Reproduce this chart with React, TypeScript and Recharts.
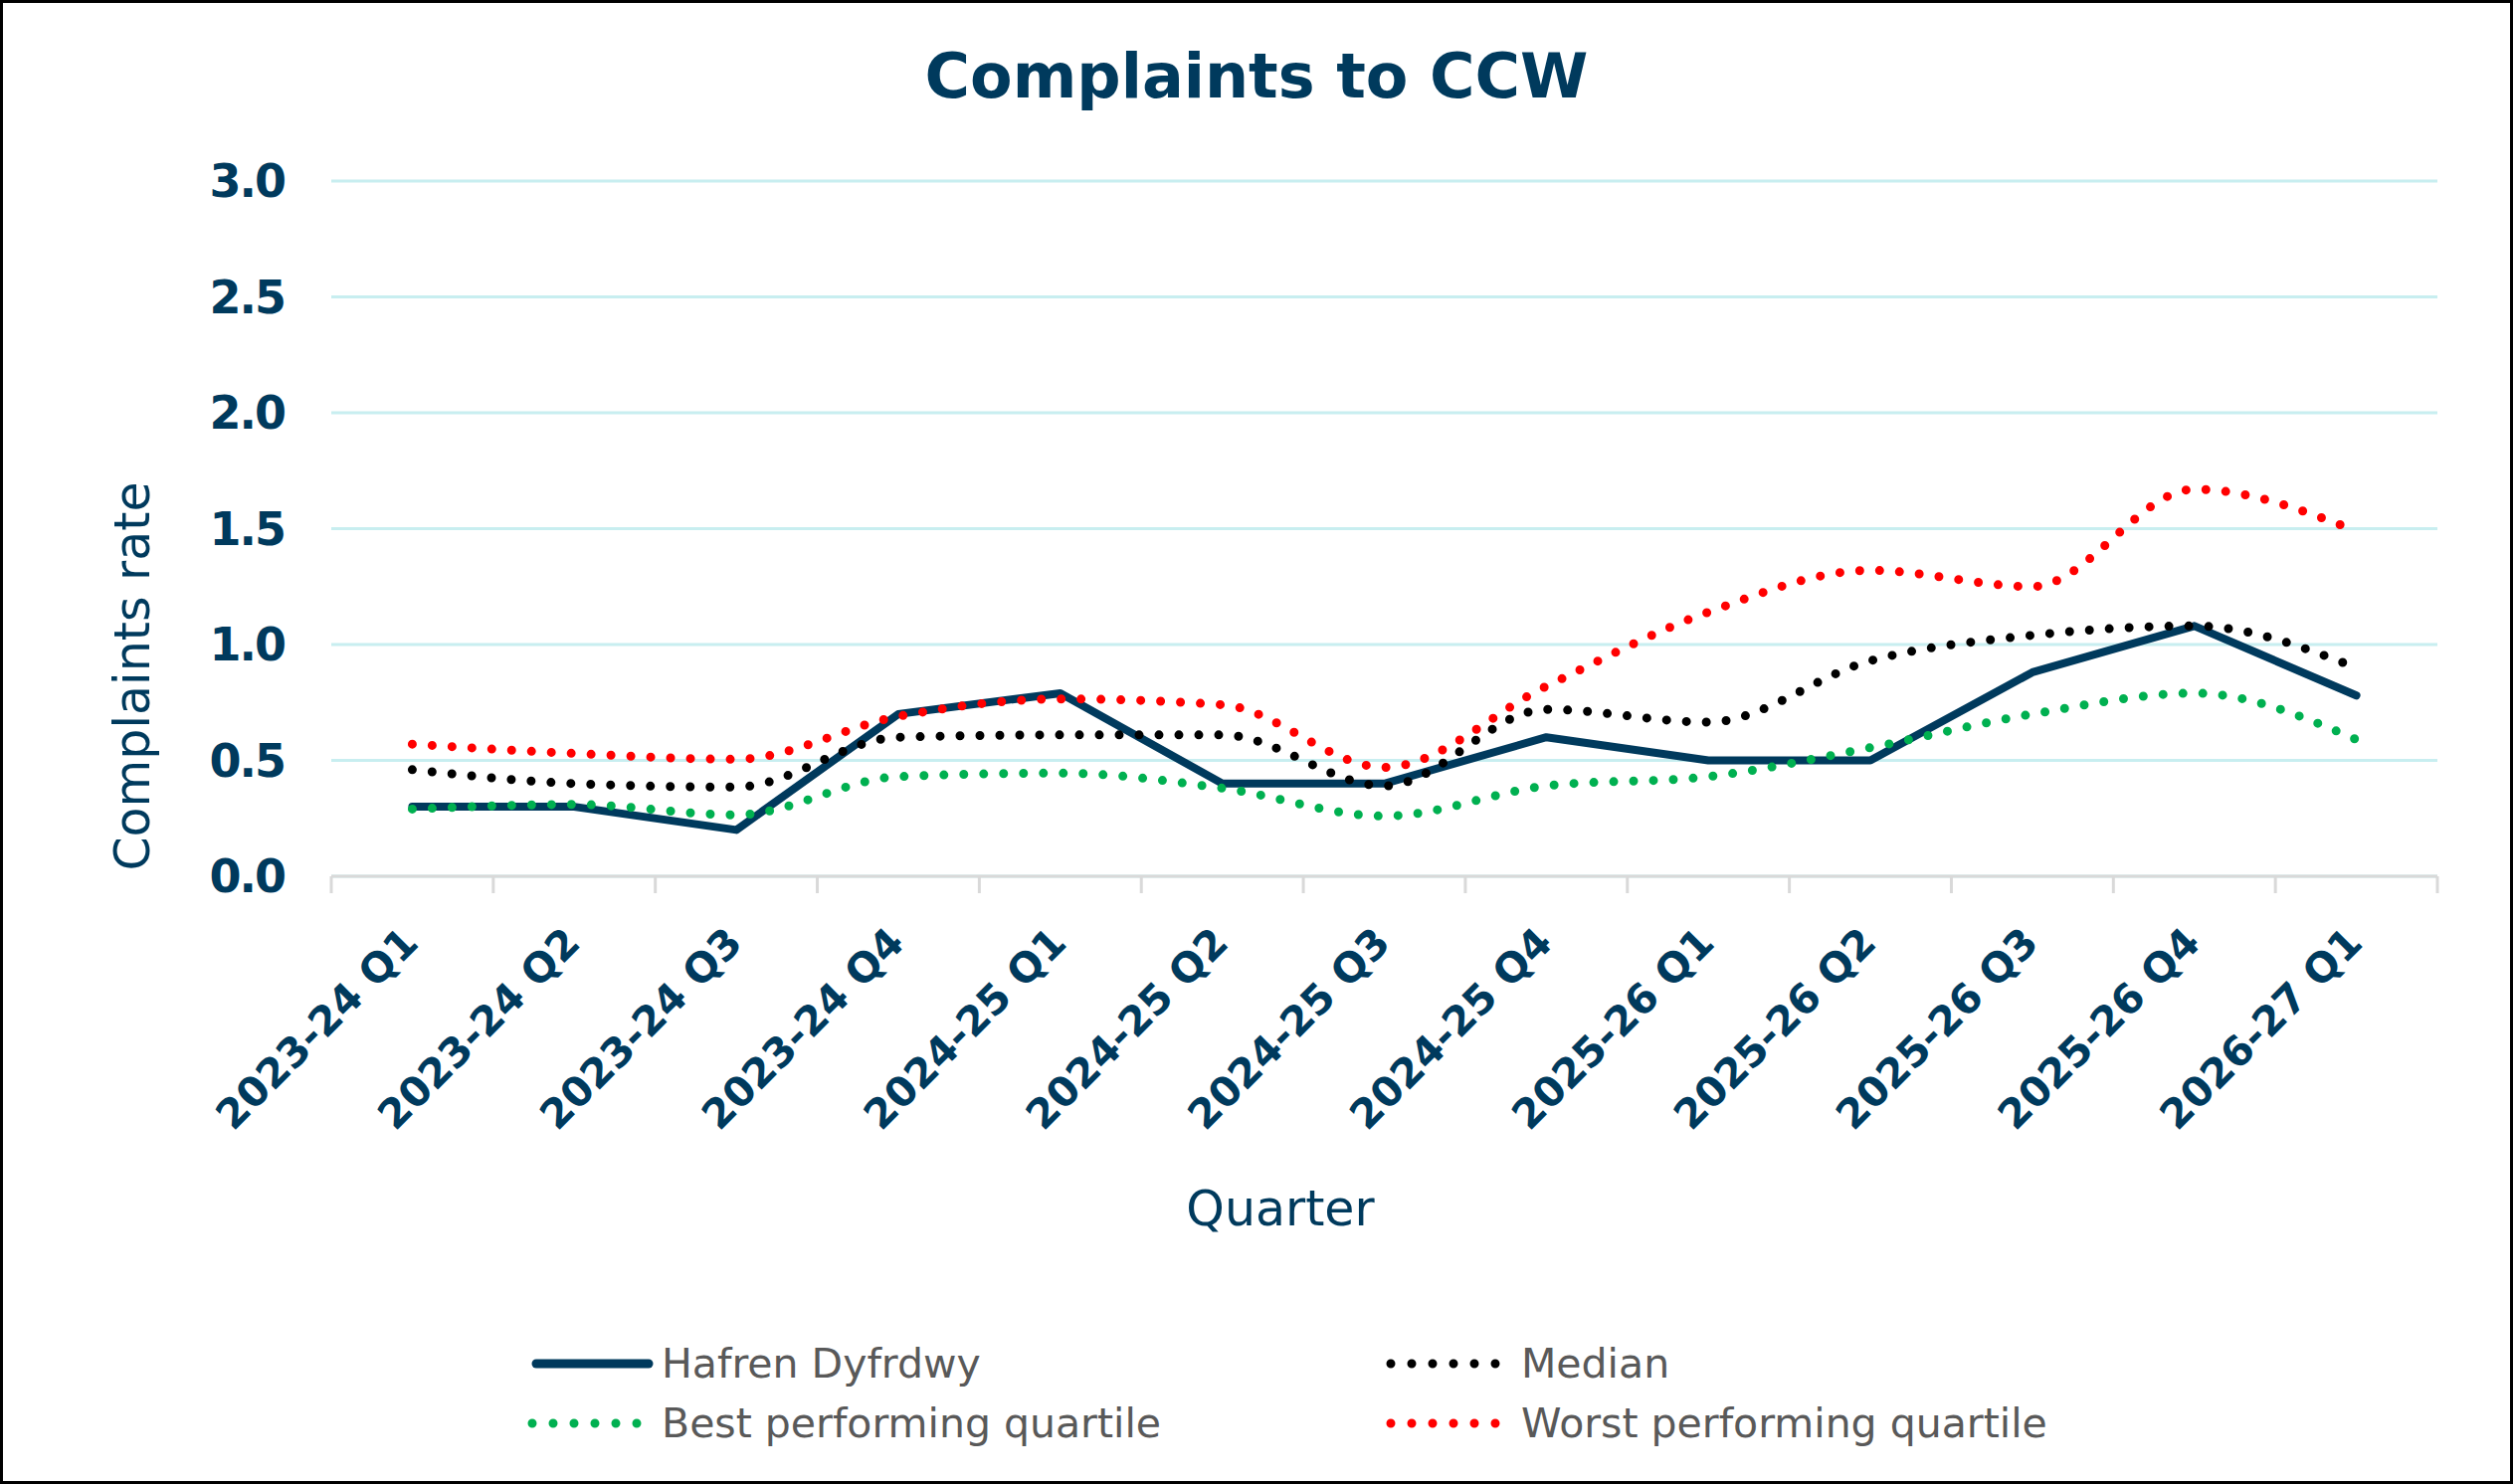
import React from 'react';
import { LineChart, Line, XAxis, YAxis, CartesianGrid, Legend } from 'recharts';

const CATEGORIES = [
  '2023-24 Q1', '2023-24 Q2', '2023-24 Q3', '2023-24 Q4',
  '2024-25 Q1', '2024-25 Q2', '2024-25 Q3', '2024-25 Q4',
  '2025-26 Q1', '2025-26 Q2', '2025-26 Q3', '2025-26 Q4',
  '2026-27 Q1',
];
const HAFREN = [0.30, 0.30, 0.20, 0.70, 0.79, 0.40, 0.40, 0.60, 0.50, 0.50, 0.88, 1.08, 0.78];
const MEDIAN = [0.46, 0.40, 0.385, 0.60, 0.61, 0.61, 0.39, 0.72, 0.665, 0.93, 1.04, 1.08, 0.90];
const BEST = [0.29, 0.31, 0.265, 0.43, 0.445, 0.38, 0.26, 0.39, 0.43, 0.555, 0.70, 0.79, 0.59];
const WORST = [0.57, 0.53, 0.505, 0.69, 0.765, 0.74, 0.47, 0.82, 1.14, 1.32, 1.25, 1.67, 1.49];
const Y_TICKS = [0, 0.5, 1.0, 1.5, 2.0, 2.5, 3.0];

const TITLE = 'Complaints to CCW';
const Y_TITLE = 'Complaints rate';
const X_TITLE = 'Quarter';

const NAVY = '#003A5D';
const FONT = '"DejaVu Sans", sans-serif';

const SERIES = [
  { key: 'hafren', name: 'Hafren Dyfrdwy', color: NAVY, dotted: false },
  { key: 'median', name: 'Median', color: '#000000', dotted: true },
  { key: 'best', name: 'Best performing quartile', color: '#00B050', dotted: true },
  { key: 'worst', name: 'Worst performing quartile', color: '#FF0000', dotted: true },
];

const data = CATEGORIES.map((quarter, i) => ({
  quarter,
  hafren: HAFREN[i],
  median: MEDIAN[i],
  best: BEST[i],
  worst: WORST[i],
}));

const W = 2526;
const H = 1492;
const Y_AXIS_W = 333;
const M_RIGHT = 76;
const M_TOP = 182;
const LEGEND_H = 150;
const X_AXIS_H = 461;
const PLOT_W = W - Y_AXIS_W - M_RIGHT;
const HALF_BAND = PLOT_W / CATEGORIES.length / 2;

function XTick(props: any) {
  const { x, y, payload } = props;
  const index = props.index ?? payload?.index ?? 0;
  const last = index === CATEGORIES.length - 1;
  return (
    <g>
      <line x1={x - HALF_BAND} x2={x - HALF_BAND} y1={y} y2={y + 17} stroke="#D9D9D9" strokeWidth={3} />
      {last && (
        <line x1={x + HALF_BAND} x2={x + HALF_BAND} y1={y} y2={y + 17} stroke="#D9D9D9" strokeWidth={3} />
      )}
      <text
        transform={`translate(${x + 8},${y + 69}) rotate(-45)`}
        textAnchor="end"
        fill={NAVY}
        fontSize={41}
        fontWeight={700}
        fontFamily={FONT}
      >
        {payload.value}
      </text>
    </g>
  );
}

function YTitle() {
  return (
    <text
      x={150}
      y={680}
      transform="rotate(-90, 150, 680)"
      textAnchor="middle"
      fill={NAVY}
      fontSize={49}
      fontFamily={FONT}
    >
      {Y_TITLE}
    </text>
  );
}

function XTitle() {
  return (
    <text x={1287} y={1232} textAnchor="middle" fill={NAVY} fontSize={49} fontFamily={FONT}>
      {X_TITLE}
    </text>
  );
}

function LegendContent() {
  const cols = [535, 1398];
  const rows = [29, 89];
  return (
    <svg width={W} height={LEGEND_H} style={{ display: 'block' }}>
      {SERIES.map((s, i) => {
        const cx = cols[i % 2];
        const cy = rows[Math.floor(i / 2)];
        const textX = i % 2 === 0 ? 665 : 1529;
        return (
          <g key={s.key}>
            {s.dotted ? (
              <line
                x1={cx}
                x2={cx + 106}
                y1={cy}
                y2={cy}
                stroke={s.color}
                strokeWidth={9}
                strokeDasharray="0 21"
                strokeLinecap="round"
              />
            ) : (
              <line x1={cx + 4} x2={cx + 117} y1={cy} y2={cy} stroke={s.color} strokeWidth={9} strokeLinecap="round" />
            )}
            <text x={textX} y={cy + 14} fill="#595959" fontSize={41} fontFamily={FONT}>
              {s.name}
            </text>
          </g>
        );
      })}
    </svg>
  );
}

export default function App() {
  return (
    <div style={{ position: 'absolute', left: 0, top: 0, width: W, height: H, background: '#fff', fontFamily: FONT }}>
      <LineChart width={W} height={H} data={data} margin={{ top: M_TOP, right: M_RIGHT, bottom: 0, left: 0 }}>
        <CartesianGrid vertical={false} stroke="#C8EEF0" strokeWidth={3} />
        <XAxis
          dataKey="quarter"
          scale="band"
          interval={0}
          height={X_AXIS_H}
          tickSize={0}
          tickMargin={0}
          tickLine={false}
          axisLine={{ stroke: '#D9D9D9', strokeWidth: 3 }}
          tick={<XTick />}
          label={<XTitle />}
        />
        <YAxis
          domain={[0, 3]}
          ticks={Y_TICKS}
          width={Y_AXIS_W}
          axisLine={false}
          tickLine={false}
          tickSize={0}
          tickMargin={47}
          tickFormatter={(v: number) => v.toFixed(1)}
          tick={{ fill: NAVY, fontSize: 46, fontWeight: 700, fontFamily: FONT, letterSpacing: -2 }}
          label={<YTitle />}
        />
        <Legend
          verticalAlign="bottom"
          content={<LegendContent />}
          wrapperStyle={{ left: 0, top: H - LEGEND_H, width: W, height: LEGEND_H }}
        />
        {SERIES.map((s) =>
          s.dotted ? (
            <Line
              key={s.key}
              dataKey={s.key}
              name={s.name}
              type="monotone"
              stroke={s.color}
              strokeWidth={9}
              strokeDasharray="0 20"
              strokeLinecap="round"
              dot={false}
              activeDot={false}
              isAnimationActive={false}
            />
          ) : (
            <Line
              key={s.key}
              dataKey={s.key}
              name={s.name}
              type="linear"
              stroke={s.color}
              strokeWidth={8}
              strokeLinecap="round"
              strokeLinejoin="round"
              dot={false}
              activeDot={false}
              isAnimationActive={false}
            />
          )
        )}
      </LineChart>
      <div
        style={{
          position: 'absolute',
          left: 0,
          top: 46,
          width: W,
          textAlign: 'center',
          fontFamily: FONT,
          fontWeight: 700,
          fontSize: 62,
          lineHeight: '62px',
          color: NAVY,
          whiteSpace: 'nowrap',
        }}
      >
        {TITLE}
      </div>
      <div
        style={{
          position: 'absolute',
          left: 0,
          top: 0,
          width: W,
          height: H,
          boxSizing: 'border-box',
          border: '3px solid #000',
          pointerEvents: 'none',
        }}
      />
    </div>
  );
}
